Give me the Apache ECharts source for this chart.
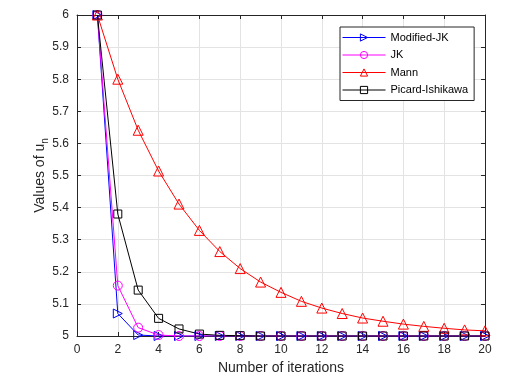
<!DOCTYPE html>
<html>
<head>
<meta charset="utf-8">
<script src="https://cdn.jsdelivr.net/npm/echarts@6/dist/echarts.min.js"></script>
<style>
  html, body { margin: 0; padding: 0; background: #fff; }
  #chart { width: 520px; height: 381px; }
</style>
</head>
<body>
<div id="chart"></div>
<script>
// iterations on the x axis
const iterations = [1, 2, 3, 4, 5, 6, 7, 8, 9, 10, 11, 12, 13, 14, 15, 16, 17, 18, 19, 20];

// values
const modifiedJK = [6, 5.070, 5.003, 5.000, 5.000, 5, 5, 5, 5, 5, 5, 5, 5, 5, 5, 5, 5, 5, 5, 5];
const jk = [6, 5.157, 5.026, 5.003, 5.000, 5, 5, 5, 5, 5, 5, 5, 5, 5, 5, 5, 5, 5, 5, 5];
const mann = [6, 5.800, 5.641, 5.514, 5.411, 5.329, 5.263, 5.210, 5.168, 5.136, 5.108, 5.087, 5.070, 5.056, 5.046, 5.037, 5.030, 5.024, 5.019, 5.016];
const picard = [6, 5.380, 5.143, 5.055, 5.022, 5.006, 5.002, 5.001, 5, 5, 5, 5, 5, 5, 5, 5, 5, 5, 5, 5];

const xTicks = { min: 0, max: 20, interval: 2 };
const yTicks = { min: 5, max: 6, interval: 0.1 };

const FONT = "'Liberation Sans', Arial, sans-serif";
const AXIS_COLOR = "#262626";

function pairs(values) {
    return iterations.map(function (it, i) {
        return [it, values[i]];
    });
}

function makeSeries(name, values, color, symbol, size, rotate) {
    return {
        name: name,
        type: 'line',
        data: pairs(values),
        symbol: symbol,
        symbolSize: size,
        symbolRotate: rotate || 0,
        showSymbol: true,
        color: color,
        lineStyle: { color: color, width: 1 },
        itemStyle: { color: 'rgba(255,255,255,0)', borderColor: color, borderWidth: 1 },
        animation: false,
        z: 3
    };
}

const myChart = echarts.init(document.getElementById('chart'), null, { renderer: 'canvas' });

//x轴 (bottom with labels, top only box + ticks)
const xAxisBase = {
    type: 'value',
    min: xTicks.min,
    max: xTicks.max,
    interval: xTicks.interval,
    axisLine: { show: true, onZero: false, lineStyle: { color: AXIS_COLOR, width: 1 } },
    axisTick: { show: true, inside: true, length: 4, lineStyle: { color: AXIS_COLOR } }
};
const yAxisBase = {
    type: 'value',
    min: yTicks.min,
    max: yTicks.max,
    interval: yTicks.interval,
    axisLine: { show: true, onZero: false, lineStyle: { color: AXIS_COLOR, width: 1 } },
    axisTick: { show: true, inside: true, length: 4, lineStyle: { color: AXIS_COLOR } }
};

let option = {
    backgroundColor: '#fff',
    grid: { left: 77, right: 35, top: 15, bottom: 45, containLabel: false },
    legend: {
        orient: 'vertical',
        left: 340,
        top: 27,
        padding: [4, 6, 4, 2],
        itemWidth: 43,
        itemHeight: 9,
        itemGap: 4.5,
        backgroundColor: '#fff',
        borderColor: AXIS_COLOR,
        borderWidth: 1,
        lineStyle: { width: 1 },
        itemStyle: { borderWidth: 1 },
        textStyle: { fontFamily: FONT, fontSize: 11, color: '#000', lineHeight: 13 },
        data: ['Modified-JK', 'JK', 'Mann', 'Picard-Ishikawa']
    },
    xAxis: [
        Object.assign({}, xAxisBase, {
            position: 'bottom',
            name: 'Number of iterations',
            nameLocation: 'middle',
            nameGap: 25,
            nameMoveOverlap: false,
            nameTextStyle: { fontFamily: FONT, fontSize: 14, color: AXIS_COLOR },
            axisLabel: { fontFamily: FONT, fontSize: 12, color: AXIS_COLOR, margin: 8 },
            splitLine: { show: true, lineStyle: { color: '#e3e3e3', width: 1 } }
        }),
        Object.assign({}, xAxisBase, {
            position: 'top',
            axisLabel: { show: false },
            splitLine: { show: false }
        })
    ],
    yAxis: [
        Object.assign({}, yAxisBase, {
            position: 'left',
            name: 'Values of u{sub|n}',
            nameLocation: 'middle',
            nameRotate: 90,
            nameGap: 27,
            nameMoveOverlap: false,
            nameTextStyle: {
                fontFamily: FONT, fontSize: 14, color: AXIS_COLOR,
                rich: { sub: { fontFamily: FONT, fontSize: 10, color: AXIS_COLOR, padding: [9, 0, 0, 0] } }
            },
            axisLabel: {
                fontFamily: FONT, fontSize: 12, color: AXIS_COLOR, margin: 8,
                formatter: function (v) {
                    return String(parseFloat(v.toFixed(1)));
                }
            },
            splitLine: { show: true, lineStyle: { color: '#e3e3e3', width: 1 } }
        }),
        Object.assign({}, yAxisBase, {
            position: 'right',
            axisLabel: { show: false },
            splitLine: { show: false }
        })
    ],
    series: [
        makeSeries('Modified-JK', modifiedJK, '#0000ff', 'triangle', 9, -90),
        makeSeries('JK', jk, '#ff00ff', 'circle', 9),
        makeSeries('Mann', mann, '#ff0000', 'triangle', 10),
        makeSeries('Picard-Ishikawa', picard, '#000000', 'rect', 8)
    ]
};

myChart.setOption(option, true);
</script>
</body>
</html>
